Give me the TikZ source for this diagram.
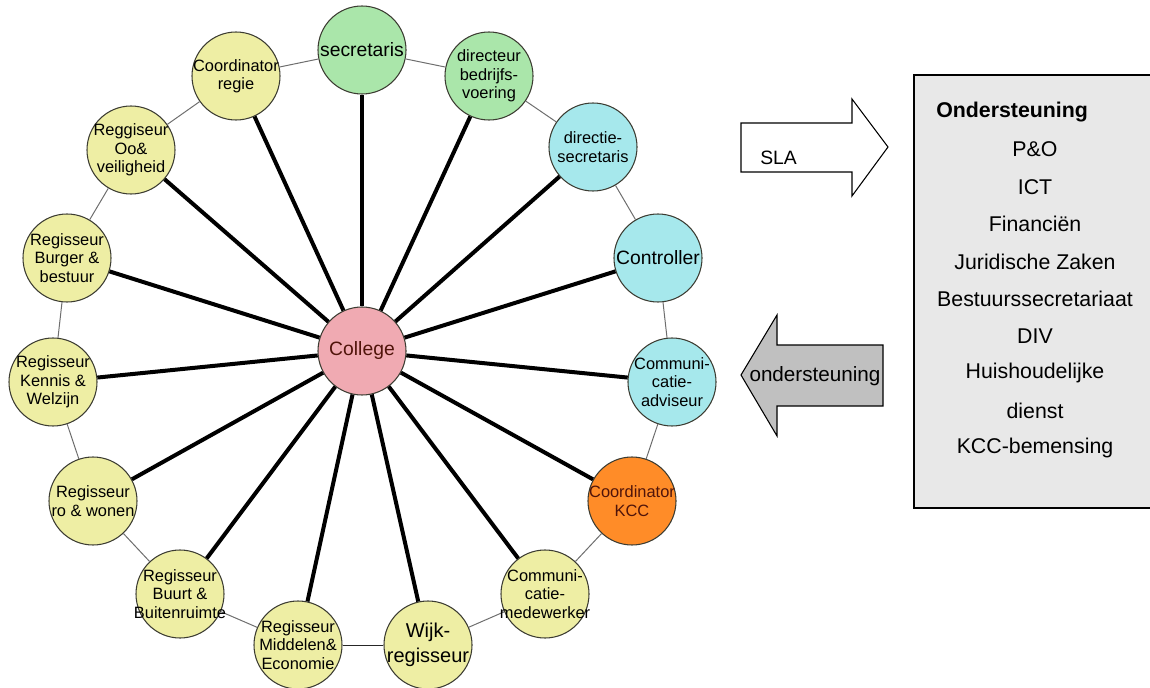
\documentclass[tikz,border=0pt]{standalone}
\usepackage{fontspec}
\setmainfont{Liberation Sans}
\definecolor{yellowc}{RGB}{238,238,164}
\definecolor{greenc}{RGB}{170,230,170}
\definecolor{cyanc}{RGB}{166,232,236}
\definecolor{orangec}{RGB}{255,140,40}
\definecolor{pinkc}{RGB}{240,170,178}
\definecolor{ringc}{RGB}{110,110,110}
\definecolor{bordc}{RGB}{60,60,50}
\definecolor{arrowgray}{RGB}{192,192,192}
\definecolor{boxgray}{RGB}{232,232,232}
\definecolor{darkred}{RGB}{80,20,10}
\begin{document}
\begin{tikzpicture}[x=0.75pt,y=-0.75pt,
  bub/.style={circle, draw=bordc, line width=0.8pt, minimum size=66pt, inner sep=0pt},
  ybub/.style={bub, fill=yellowc},
  gbub/.style={bub, fill=greenc},
  cbub/.style={bub, fill=cyanc},
  smalltxt/.style={font=\fontsize{12.3}{13.8}\selectfont, align=center, inner sep=0pt},
  bigtxt/.style={font=\fontsize{14.5}{16}\selectfont, align=center, inner sep=0pt},
  ring/.style={draw=ringc, line width=0.75pt},
  spoke/.style={draw=black, line width=3pt},
  boxtxt/.style={font=\fontsize{16}{18}\selectfont, inner sep=0pt}
]
\useasboundingbox (0,0) rectangle (1150,688);

% circles
\node[bub, fill=pinkc] (col) at (362,351) {};
\node[gbub] (sec) at (362,50) {};
\node[gbub] (dir) at (489,76) {};
\node[cbub] (dsec) at (593,147) {};
\node[cbub] (con) at (658,258) {};
\node[cbub] (cadv) at (672,382) {};
\node[bub, fill=orangec] (kcc) at (632,501) {};
\node[ybub] (cmed) at (545,594) {};
\node[ybub] (wijk) at (428,645) {};
\node[ybub] (mid) at (298,645) {};
\node[ybub] (buurt) at (180,594) {};
\node[ybub] (ro) at (93,501) {};
\node[ybub] (ken) at (53,382) {};
\node[ybub] (bur) at (67,258) {};
\node[ybub] (oo) at (131,150) {};
\node[ybub] (creg) at (236,76) {};

% ring
\draw[ring] (sec) -- (dir);
\draw[ring] (dir) -- (dsec);
\draw[ring] (dsec) -- (con);
\draw[ring] (con) -- (cadv);
\draw[ring] (cadv) -- (kcc);
\draw[ring] (kcc) -- (cmed);
\draw[ring] (cmed) -- (wijk);
\draw[ring, draw=black!85] (wijk) -- (mid);
\draw[ring] (mid) -- (buurt);
\draw[ring] (buurt) -- (ro);
\draw[ring] (ro) -- (ken);
\draw[ring] (ken) -- (bur);
\draw[ring] (bur) -- (oo);
\draw[ring] (oo) -- (creg);
\draw[ring] (creg) -- (sec);

% spokes
\foreach \n in {sec,dir,dsec,con,cadv,kcc,cmed,wijk,mid,buurt,ro,ken,bur,oo,creg}
  \draw[spoke] (col) -- (\n);

% texts
\node[bigtxt, text=darkred] (tcol) at (col) {College};
\node[bigtxt] (tsec) at (sec) {secretaris};
\node[smalltxt] (tdir) at (dir) {directeur\\bedrijfs-\\voering};
\node[smalltxt] (tdsec) at (dsec) {directie-\\secretaris};
\node[bigtxt] (tcon) at (con) {Controller};
\node[smalltxt] (tcadv) at (cadv) {Communi-\\catie-\\adviseur};
\node[smalltxt, text=darkred] (tkcc) at (kcc) {Coordinator\\KCC};
\node[smalltxt] (tcmed) at (cmed) {Communi-\\catie-\\medewerker};
\node[font=\fontsize{15}{19}\selectfont, align=center, inner sep=0pt] (twijk) at (wijk) {Wijk-\\regisseur};
\node[smalltxt] (tmid) at (mid) {Regisseur\\Middelen\&\\Economie};
\node[smalltxt] (tbuurt) at (buurt) {Regisseur\\Buurt \&\\Buitenruimte};
\node[smalltxt] (tro) at (ro) {Regisseur\\ro \& wonen};
\node[smalltxt] (tken) at (ken) {Regisseur\\Kennis \&\\Welzijn};
\node[smalltxt] (tbur) at (bur) {Regisseur\\Burger \&\\bestuur};
\node[smalltxt] (too) at (oo) {Reggiseur\\Oo\&\\veiligheid};
\node[smalltxt] (tcreg) at (creg) {Coordinator\\regie};

% SLA arrow
\draw[fill=white, line width=0.8pt] (741,123) -- (852,123) -- (852,99) -- (888,147) -- (852,196) -- (852,172) -- (741,172) -- cycle;
\node[font=\fontsize{14.5}{16}\selectfont, inner sep=0pt, anchor=west] (sla) at (760,158) {SLA};

% ondersteuning arrow
\draw[fill=arrowgray, line width=0.8pt] (741,375) -- (777,315) -- (777,345) -- (883,345) -- (883,406) -- (777,406) -- (777,436) -- cycle;
\node[font=\fontsize{15.5}{17}\selectfont, inner sep=0pt] (ond) at (815,376) {ondersteuning};

% box
\draw[fill=boxgray, line width=0.9pt] (914,75) rectangle (1153,508);
\node[boxtxt, font=\fontsize{16}{18}\selectfont\bfseries, anchor=west] (b0) at (936,112) {Ondersteuning};
\node[boxtxt] (b1) at (1035,149) {P\&O};
\node[boxtxt] (b2) at (1035,187) {ICT};
\node[boxtxt] (b3) at (1035,224) {Financiën};
\node[boxtxt] (b4) at (1035,262) {Juridische Zaken};
\node[boxtxt] (b5) at (1035,299) {Bestuurssecretariaat};
\node[boxtxt] (b6) at (1035,336) {DIV};
\node[boxtxt] (b7) at (1035,373) {Huishoudelijke};
\node[boxtxt] (b8) at (1035,411) {dienst};
\node[boxtxt] (b9) at (1035,448) {KCC-bemensing};
\end{tikzpicture}
\end{document}
